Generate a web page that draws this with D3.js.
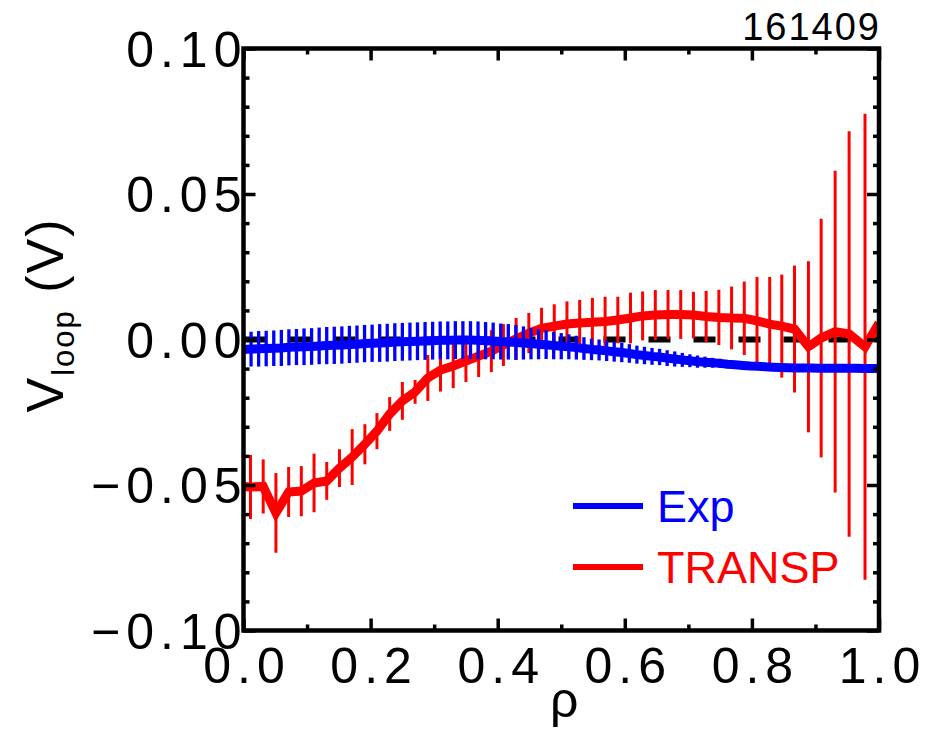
<!DOCTYPE html>
<html>
<head>
<meta charset="utf-8">
<script src="https://cdn.jsdelivr.net/npm/d3@7"></script>
<style>
  html, body { margin: 0; padding: 0; background: #fff; }
  svg { display: block; font-family: "Liberation Sans", Arial, Helvetica, sans-serif; }
</style>
</head>
<body>
<svg id="chart" width="936" height="741"></svg>
<script>
// Loop voltage profile vs normalised radius, shot 161409

// Experimental profile (rho grid of 85 points)
const expRho = d3.range(85).map(k => k / 84);
const expV = [
  -0.0034, -0.0033, -0.0032, -0.0031, -0.0030, -0.0029, -0.0027, -0.0026, -0.0025, -0.0024,
  -0.0022, -0.0021, -0.0020, -0.0019, -0.0017, -0.0016, -0.0014, -0.0013, -0.0012, -0.0011,
  -0.0009, -0.0008, -0.0007, -0.0006, -0.0005, -0.0004, -0.0003, -0.0003, -0.0002, -0.0002,
  -0.0002, -0.0003, -0.0004, -0.0005, -0.0007, -0.0008, -0.0010, -0.0012, -0.0014, -0.0016,
  -0.0018, -0.0021, -0.0023, -0.0025, -0.0028, -0.0031, -0.0034, -0.0036, -0.0039, -0.0042,
  -0.0045, -0.0048, -0.0052, -0.0055, -0.0058, -0.0060, -0.0064, -0.0067, -0.0070, -0.0073,
  -0.0076, -0.0078, -0.0080, -0.0082, -0.0085, -0.0087, -0.0089, -0.0091, -0.0092, -0.0094,
  -0.0095, -0.0096, -0.0097, -0.0098, -0.0098, -0.0098, -0.0099, -0.0099, -0.0099, -0.0099,
  -0.0099, -0.0099, -0.0100, -0.0100, -0.0100
];
const expErr = [
  0.0060, 0.0060, 0.0061, 0.0061, 0.0061, 0.0062, 0.0062, 0.0062, 0.0063, 0.0063,
  0.0063, 0.0064, 0.0064, 0.0064, 0.0064, 0.0064, 0.0064, 0.0064, 0.0065, 0.0065,
  0.0065, 0.0065, 0.0065, 0.0065, 0.0065, 0.0065, 0.0065, 0.0065, 0.0065, 0.0065,
  0.0065, 0.0065, 0.0064, 0.0063, 0.0062, 0.0061, 0.0060, 0.0057, 0.0054, 0.0052,
  0.0049, 0.0047, 0.0045, 0.0043, 0.0041, 0.0039, 0.0037, 0.0036, 0.0035, 0.0034,
  0.0033, 0.0032, 0.0031, 0.0030, 0.0029, 0.0028, 0.0027, 0.0026, 0.0024, 0.0022,
  0.0021, 0.0019, 0.0017, 0.0016, 0.0014, 0.0013, 0.0012, 0.0012, 0.0011, 0.0011,
  0.0010, 0.0010, 0.0009, 0.0009, 0.0008, 0.0008, 0.0008, 0.0007, 0.0007, 0.0007,
  0.0006, 0.0006, 0.0006, 0.0005, 0.0005
];

// TRANSP profile: zone centres plus the two boundary values (no error bar)
const transpRho = [
  0.000,
  0.011, 0.031, 0.051, 0.071, 0.091, 0.111, 0.131, 0.151, 0.171, 0.191,
  0.210, 0.230, 0.250, 0.270, 0.290, 0.310, 0.330, 0.350, 0.370, 0.390,
  0.409, 0.429, 0.449, 0.469, 0.489, 0.509, 0.529, 0.549, 0.569, 0.589,
  0.609, 0.628, 0.648, 0.668, 0.688, 0.708, 0.728, 0.748, 0.768, 0.788,
  0.808, 0.828, 0.847, 0.867, 0.889, 0.909, 0.931, 0.953, 0.978,
  1.000
];
const transpV = [
  -0.0505,
  -0.0507, -0.0505, -0.0596, -0.0524, -0.0521, -0.0493, -0.0486, -0.0442, -0.0404, -0.0360,
  -0.0315, -0.0256, -0.0211, -0.0180, -0.0132, -0.0105, -0.0091, -0.0074, -0.0057, -0.0040,
  -0.0019, 0.0002, 0.0022, 0.0038, 0.0046, 0.0053, 0.0057, 0.0059, 0.0062, 0.0067,
  0.0074, 0.0081, 0.0084, 0.0086, 0.0086, 0.0084, 0.0079, 0.0076, 0.0074, 0.0073,
  0.0064, 0.0053, 0.0046, 0.0036, -0.0025, 0.0005, 0.0027, 0.0019, -0.0025,
  0.0057
];
const transpErr = [
  0,
  0.0110, 0.0093, 0.0137, 0.0086, 0.0086, 0.0101, 0.0065, 0.0065, 0.0096, 0.0069,
  0.0062, 0.0058, 0.0065, 0.0041, 0.0079, 0.0074, 0.0076, 0.0072, 0.0072, 0.0072,
  0.0072, 0.0072, 0.0069, 0.0071, 0.0075, 0.0078, 0.0079, 0.0084, 0.0085, 0.0080,
  0.0087, 0.0084, 0.0086, 0.0084, 0.0084, 0.0080, 0.0088, 0.0095, 0.0108, 0.0126,
  0.0151, 0.0162, 0.0177, 0.0218, 0.0294, 0.0410, 0.0553, 0.0697, 0.0801,
  0
];

// Axis ticks
const xMajor = [0.0, 0.2, 0.4, 0.6, 0.8, 1.0];
const xMinor = [0.1, 0.3, 0.5, 0.7, 0.9];
const yMajor = [-0.10, -0.05, 0.00, 0.05, 0.10];
const yMinor = [-0.09, -0.08, -0.07, -0.06, -0.04, -0.03, -0.02, -0.01,
                0.01, 0.02, 0.03, 0.04, 0.06, 0.07, 0.08, 0.09];

const seriesNames = ["Exp", "TRANSP"];
const seriesColors = ["#0000ff", "#ff0000"];

const L = 243.5, R = 879, T = 48.5, B = 630.5;
const x = d3.scaleLinear().domain([0, 1]).range([L, R]);
const y = d3.scaleLinear().domain([-0.1, 0.1]).range([B, T]);

const svg = d3.select("#chart");

svg.append("defs").append("clipPath").attr("id", "plot")
  .append("rect").attr("x", L).attr("y", T).attr("width", R - L).attr("height", B - T);

const plot = svg.append("g").attr("clip-path", "url(#plot)");

// zero reference
plot.append("line")
  .attr("x1", x(0)).attr("x2", x(1)).attr("y1", y(0)).attr("y2", y(0))
  .attr("stroke", "#000").attr("stroke-width", 6)
  .attr("stroke-dasharray", "22,23");

const transp = transpRho.map((r, i) => ({ r, v: transpV[i], e: transpErr[i] }));
const exp = expRho.map((r, i) => ({ r, v: expV[i], e: expErr[i] }));

const line = d3.line().x(d => x(d.r)).y(d => y(d.v));

// TRANSP
plot.append("g").selectAll("line")
  .data(transp.filter(d => d.e > 0))
  .join("line")
  .attr("x1", d => x(d.r)).attr("x2", d => x(d.r))
  .attr("y1", d => y(d.v - d.e)).attr("y2", d => y(d.v + d.e))
  .attr("stroke", seriesColors[1]).attr("stroke-width", 3);
plot.append("path").datum(transp)
  .attr("d", line).attr("fill", "none")
  .attr("stroke", seriesColors[1]).attr("stroke-width", 9)
  .attr("stroke-linejoin", "miter");

// Exp
plot.append("g").selectAll("line")
  .data(exp)
  .join("line")
  .attr("x1", d => x(d.r)).attr("x2", d => x(d.r))
  .attr("y1", d => y(d.v - d.e)).attr("y2", d => y(d.v + d.e))
  .attr("stroke", seriesColors[0]).attr("stroke-width", 3.3);
plot.append("path").datum(exp)
  .attr("d", line).attr("fill", "none")
  .attr("stroke", seriesColors[0]).attr("stroke-width", 9)
  .attr("stroke-linejoin", "round");

// Axes: inward ticks on all four sides
const labelSpacing = 6;
function styleAxis(g) {
  g.select(".domain").remove();
  g.selectAll(".tick line").attr("stroke", "#000").attr("stroke-width", 3.5);
  g.selectAll("text").attr("fill", "#000").attr("font-size", 50)
    .attr("letter-spacing", labelSpacing);
}
const fmtX = d3.format(".1f");
const fmtY = v => (v < 0 ? "\u2212" : "") + d3.format(".2f")(Math.abs(v));

const xAxisG = svg.append("g").attr("transform", `translate(0,${B})`)
  .call(d3.axisBottom(x).tickValues(xMajor).tickSize(-12).tickPadding(17).tickFormat(fmtX))
  .call(styleAxis);
// centre labels despite the trailing letter spacing
xAxisG.selectAll("text").attr("dx", labelSpacing / 2);
svg.append("g").attr("transform", `translate(0,${B})`)
  .call(d3.axisBottom(x).tickValues(xMinor).tickSize(-6).tickFormat(""))
  .call(styleAxis);
svg.append("g").attr("transform", `translate(0,${T})`)
  .call(d3.axisTop(x).tickValues(xMajor).tickSize(-12).tickFormat(""))
  .call(styleAxis);
svg.append("g").attr("transform", `translate(0,${T})`)
  .call(d3.axisTop(x).tickValues(xMinor).tickSize(-6).tickFormat(""))
  .call(styleAxis);
const yAxisG = svg.append("g").attr("transform", `translate(${L},0)`)
  .call(d3.axisLeft(y).tickValues(yMajor).tickSize(-12).tickPadding(2).tickFormat(fmtY))
  .call(styleAxis);
yAxisG.selectAll("text").attr("dx", labelSpacing).attr("dy", "0.35em");
svg.append("g").attr("transform", `translate(${L},0)`)
  .call(d3.axisLeft(y).tickValues(yMinor).tickSize(-6).tickFormat(""))
  .call(styleAxis);
svg.append("g").attr("transform", `translate(${R},0)`)
  .call(d3.axisRight(y).tickValues(yMajor).tickSize(-12).tickFormat(""))
  .call(styleAxis);
svg.append("g").attr("transform", `translate(${R},0)`)
  .call(d3.axisRight(y).tickValues(yMinor).tickSize(-6).tickFormat(""))
  .call(styleAxis);

// frame
svg.append("rect")
  .attr("x", L).attr("y", T).attr("width", R - L).attr("height", B - T)
  .attr("fill", "none").attr("stroke", "#000").attr("stroke-width", 4.5);

// axis titles
svg.append("text")
  .attr("x", (L + R) / 2 + 3).attr("y", 717)
  .attr("text-anchor", "middle").attr("font-size", 50)
  .text("\u03c1");

const yTitle = svg.append("text")
  .attr("transform", "translate(63,315) rotate(-90)")
  .attr("text-anchor", "middle").attr("font-size", 52)
  .attr("letter-spacing", 2);
yTitle.append("tspan").text("V");
yTitle.append("tspan").attr("font-size", 31).attr("dy", 11).text("loop");
yTitle.append("tspan").attr("dy", -11).text(" (V)");

// shot number
svg.append("text")
  .attr("x", R + 2).attr("y", 40)
  .attr("text-anchor", "end").attr("font-size", 38)
  .attr("letter-spacing", 2)
  .text("161409");

// legend
const legendY = [506, 567];
const legend = svg.append("g");
seriesNames.forEach((name, i) => {
  legend.append("line")
    .attr("x1", 573).attr("x2", 643).attr("y1", legendY[i]).attr("y2", legendY[i])
    .attr("stroke", seriesColors[i]).attr("stroke-width", 6);
  legend.append("text")
    .attr("x", 657).attr("y", legendY[i]).attr("dy", "0.36em")
    .attr("font-size", 45).attr("fill", seriesColors[i])
    .text(name);
});
</script>
</body>
</html>
